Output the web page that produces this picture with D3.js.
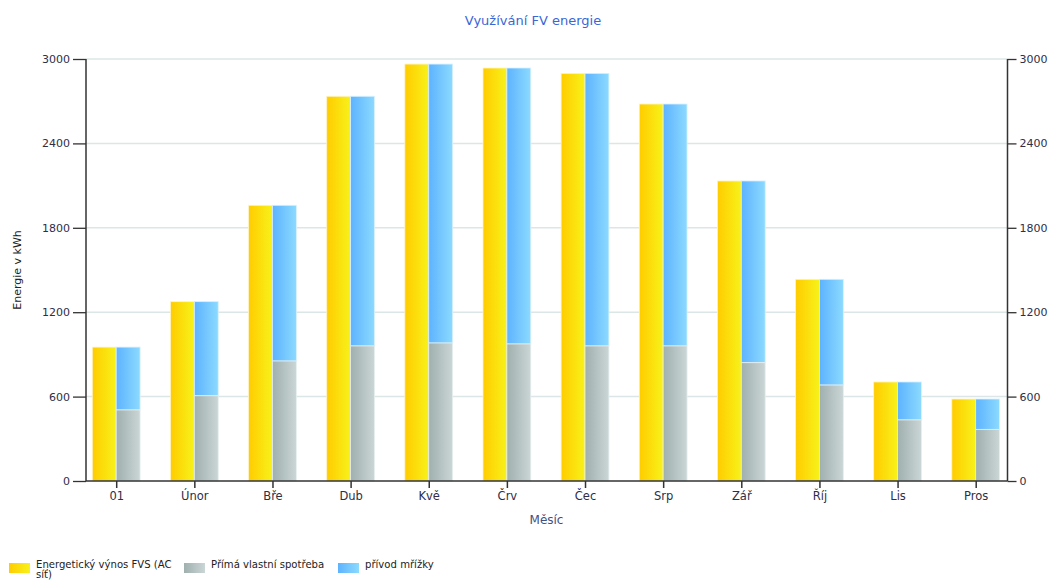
<!DOCTYPE html>
<html><head><meta charset="utf-8">
<script src="https://cdn.jsdelivr.net/npm/d3@7/dist/d3.min.js"></script>
<style>body{margin:0;background:#fff}svg{display:block}</style>
</head><body>
<svg id="c" width="1053" height="581"></svg>
<script>
const months = ["01","Únor","Bře","Dub","Kvě","Črv","Čec","Srp","Zář","Říj","Lis","Pros"];
const yieldTotal = [952,1275,1960,2735,2964,2936,2898,2680,2133,1434,704,583];
const selfConsumption = [505,606,853,960,981,974,960,960,841,682,434,367];
const gridFeed = yieldTotal.map((v,i)=>v-selfConsumption[i]);
const yTicks = [0,600,1200,1800,2400,3000];
const seriesNames = ["Energetický výnos FVS (AC síť)","Přímá vlastní spotřeba","přívod mřížky"];

const svg = d3.select("#c");
const font = "Tahoma, 'DejaVu Sans', Verdana, sans-serif";
const defs = svg.append("defs");
function grad(id,c1,c2){
  const g = defs.append("linearGradient").attr("id",id).attr("x1","0%").attr("x2","100%").attr("y1","0%").attr("y2","0%");
  g.append("stop").attr("offset","0%").attr("stop-color",c1);
  g.append("stop").attr("offset","100%").attr("stop-color",c2);
}
grad("gy","#ffcc00","#f7f21a");
grad("gg","#9fb0ae","#cbd6d6");
grad("gb","#5db3ff","#8cdaff");

const x = d3.scalePoint().domain(months).range([116.2,975.7]);
const bw = 23.9;
const y = d3.scaleLinear().domain([0,3000]).range([481,59]);
const xL = 86, xR = 1007.5;
const fmt = d3.format("d");

// gridlines
svg.append("g").selectAll("line").data(yTicks.filter(t=>t>0)).join("line")
  .attr("x1",xL).attr("x2",xR).attr("y1",d=>y(d)).attr("y2",d=>y(d))
  .attr("stroke","#dde6e6").attr("stroke-width",1.5);

// bars
const bars = svg.append("g");
bars.selectAll(".yb").data(months).join("rect").attr("class","yb")
  .attr("x",d=>x(d)-bw).attr("width",bw)
  .attr("y",(d,i)=>y(yieldTotal[i])).attr("height",(d,i)=>y(0)-y(yieldTotal[i]))
  .attr("fill","url(#gy)").attr("stroke","#fff3c8").attr("stroke-width",0.8);
bars.selectAll(".gb").data(months).join("rect").attr("class","gb")
  .attr("x",d=>x(d)).attr("width",bw)
  .attr("y",(d,i)=>y(selfConsumption[i]+gridFeed[i])).attr("height",(d,i)=>y(selfConsumption[i])-y(selfConsumption[i]+gridFeed[i]))
  .attr("fill","url(#gb)").attr("stroke","#d8f0ff").attr("stroke-width",0.8);
bars.selectAll(".sb").data(months).join("rect").attr("class","sb")
  .attr("x",d=>x(d)).attr("width",bw)
  .attr("y",(d,i)=>y(selfConsumption[i])).attr("height",(d,i)=>y(0)-y(selfConsumption[i]))
  .attr("fill","url(#gg)").attr("stroke","#e6eeee").attr("stroke-width",0.8);

// axes
const textCol = "#2e2e48";
const gx = svg.append("g").attr("transform","translate(0,481)")
  .call(d3.axisBottom(x).tickSize(7).tickPadding(4));
gx.select(".domain").remove();
gx.selectAll("line").attr("stroke","#333").attr("stroke-width",1.5);
gx.selectAll("text").attr("font-family",font).attr("font-size",11.5).attr("fill",textCol);

const gl = svg.append("g").attr("transform",`translate(${xL},0)`)
  .call(d3.axisLeft(y).tickValues(yTicks).tickFormat(fmt).tickSize(13).tickPadding(3));
gl.select(".domain").remove();
gl.selectAll("line").attr("stroke","#333").attr("stroke-width",1.3);
gl.selectAll("text").attr("font-family",font).attr("font-size",11).attr("fill",textCol);

const gr = svg.append("g").attr("transform",`translate(${xR},0)`)
  .call(d3.axisRight(y).tickValues(yTicks).tickFormat(fmt).tickSize(9).tickPadding(3));
gr.select(".domain").remove();
gr.selectAll("line").attr("stroke","#333").attr("stroke-width",1.3);
gr.selectAll("text").attr("font-family",font).attr("font-size",11).attr("fill",textCol);

svg.append("line").attr("x1",xL).attr("x2",xL).attr("y1",y(3000)).attr("y2",y(0)).attr("stroke","#333").attr("stroke-width",1.5);
svg.append("line").attr("x1",xR).attr("x2",xR).attr("y1",y(3000)).attr("y2",y(0)).attr("stroke","#333").attr("stroke-width",1.5);
svg.append("line").attr("x1",xL).attr("x2",xR).attr("y1",y(0)).attr("y2",y(0)).attr("stroke","#333").attr("stroke-width",1.5);

// titles
svg.append("text").attr("x",533).attr("y",25).attr("text-anchor","middle")
  .attr("font-family",font).attr("font-size",13).attr("fill","#3a66d6").text("Využívání FV energie");
svg.append("text").attr("x",546.5).attr("y",524).attr("text-anchor","middle")
  .attr("font-family",font).attr("font-size",12).attr("fill","#45507e").text("Měsíc");
svg.append("text").attr("transform","translate(21,270) rotate(-90)").attr("text-anchor","middle")
  .attr("font-family",font).attr("font-size",11).attr("fill","#222").text("Energie v kWh");

// legend
const leg = svg.append("g").attr("font-family",font).attr("font-size",10.1).attr("fill","#222");
const legItems = [
  {x:9, fill:"url(#gy)", lines:["Energetický výnos FVS (AC","síť)"]},
  {x:184, fill:"url(#gg)", lines:[seriesNames[1]]},
  {x:338, fill:"url(#gb)", lines:[seriesNames[2]]}
];
legItems.forEach(it=>{
  leg.append("rect").attr("x",it.x).attr("y",563).attr("width",21).attr("height",10).attr("fill",it.fill);
  const t = leg.append("text").attr("x",it.x+27).attr("y",567.5);
  it.lines.forEach((l,i)=>t.append("tspan").attr("x",it.x+27).attr("dy",i?10.5:0).text(l));
});
</script>
</body></html>
